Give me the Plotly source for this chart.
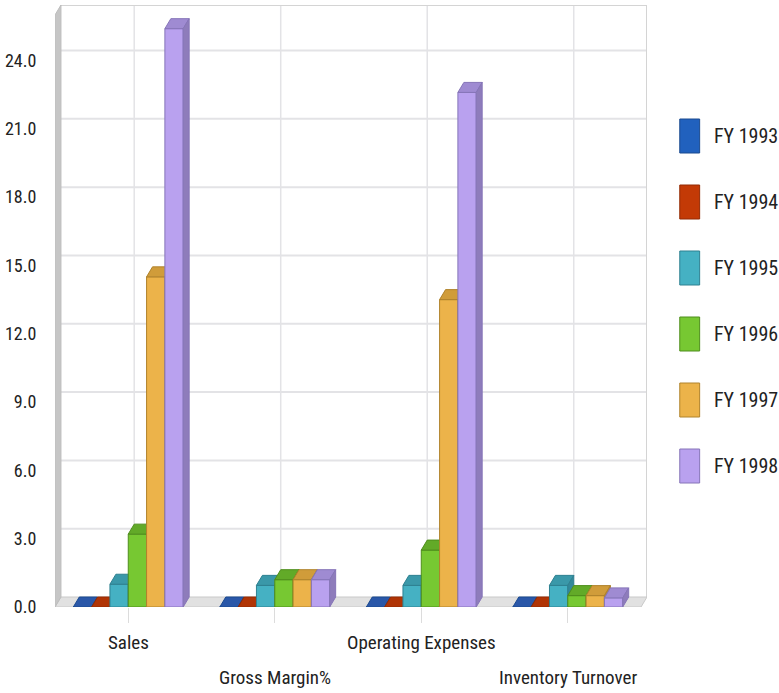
import plotly.graph_objects as go

# ---- data ----
categories = ["Sales", "Gross Margin%", "Operating Expenses", "Inventory Turnover"]
series_names = ["FY 1993", "FY 1994", "FY 1995", "FY 1996", "FY 1997", "FY 1998"]
fy1993 = [0.0, 0.0, 0.0, 0.0]
fy1994 = [0.0, 0.0, 0.0, 0.0]
fy1995 = [1.0, 0.95, 0.95, 0.95]
fy1996 = [3.2, 1.2, 2.5, 0.5]
fy1997 = [14.5, 1.2, 13.5, 0.5]
fy1998 = [25.4, 1.2, 22.6, 0.4]
y_ticks = [0, 3, 6, 9, 12, 15, 18, 21, 24]

series_values = [fy1993, fy1994, fy1995, fy1996, fy1997, fy1998]

# front / top / side / outline colours per series
front_colors = ["#2161be", "#c33a06", "#45b1c3", "#77c832", "#ecb34a", "#b9a1ef"]
top_colors = ["#2a57a8", "#b03405", "#3a98a9", "#62aa28", "#d09c3a", "#9f8bd2"]
side_colors = ["#1d4c94", "#9a2d04", "#33889a", "#57991f", "#ba8a31", "#8e7cbb"]
edge_colors = ["#1b4a8f", "#932b04", "#2f8191", "#4f8e1c", "#b0832c", "#8675b8"]

# ---- geometry ----
W, H = 779, 693
ML, MR, MT, MB = 51, 132, 5, 86
plot_w = W - ML - MR
plot_h = H - MT - MB

y_top = 26.0                    # back-wall height
group_width = 0.75
n_series = len(series_names)
bar_w = group_width / n_series
x_lo = -0.5
x_hi_front = len(categories) - 0.5
depth_px_x, depth_px_y = 6, 10
dx = depth_px_x * (x_hi_front - x_lo) / (plot_w - depth_px_x)
x_hi = x_hi_front + dx
dy = depth_px_y * y_top / (plot_h - depth_px_y)
y_hi = y_top + dy

fig = go.Figure()

# 3D-looking bars: front face, top face, side face, drawn series by series
for s, (name, vals) in enumerate(zip(series_names, series_values)):
    fx, fy, tx, ty, sx, sy = [], [], [], [], [], []
    for c, v in enumerate(vals):
        x0 = c - group_width / 2 + s * bar_w
        x1 = x0 + bar_w
        fx += [x0, x1, x1, x0, x0, None]
        fy += [0, 0, v, v, 0, None]
        tx += [x0, x1, x1 + dx, x0 + dx, x0, None]
        ty += [v, v, v + dy, v + dy, v, None]
        sx += [x1, x1 + dx, x1 + dx, x1, x1, None]
        sy += [0, dy, v + dy, v, 0, None]
    for xs, ys, col in ((fx, fy, front_colors[s]), (tx, ty, top_colors[s]), (sx, sy, side_colors[s])):
        fig.add_trace(go.Scatter(
            x=xs, y=ys, mode="lines", fill="toself", fillcolor=col,
            line=dict(color=edge_colors[s], width=1), name=name,
            showlegend=False, hoverinfo="skip"))

shapes = []
# back wall gridlines (horizontal)
for t in y_ticks[1:]:
    shapes.append(dict(type="line", xref="x", yref="y", x0=x_lo + dx, x1=x_hi,
                       y0=t + dy, y1=t + dy, line=dict(color="#e3e3e6", width=2), layer="below"))
# back wall gridlines (vertical, at categories)
for c in range(len(categories)):
    shapes.append(dict(type="line", xref="x", yref="y", x0=c + dx, x1=c + dx,
                       y0=dy, y1=y_hi, line=dict(color="#e3e3e6", width=1.5), layer="below"))
# back wall frame
shapes.append(dict(type="path", xref="x", yref="y",
                   path=f"M{x_lo + dx},{y_hi} L{x_hi},{y_hi} L{x_hi},{dy}",
                   line=dict(color="#d4d4d4", width=2), layer="below"))
# floor
shapes.append(dict(type="path", xref="x", yref="y",
                   path=f"M{x_lo},0 L{x_hi_front},0 L{x_hi},{dy} L{x_lo + dx},{dy} Z",
                   fillcolor="#e1e1e1", line=dict(color="#c9c9c9", width=1), layer="below"))
# left wall
shapes.append(dict(type="path", xref="x", yref="y",
                   path=f"M{x_lo},0 L{x_lo + dx},{dy} L{x_lo + dx},{y_hi} L{x_lo},{y_top} Z",
                   fillcolor="#c6c6c6", line=dict(color="#bdbdbd", width=1), layer="below"))

FONT = "Liberation Sans Narrow, Arial Narrow, Roboto Condensed, sans-serif"
TEXT = "#222222"

annotations = []
# category labels, staggered on two rows
for c, label in enumerate(categories):
    annotations.append(dict(x=c, xref="x", y=0, yref="paper", text=label, showarrow=False,
                            yanchor="middle", yshift=-35 if c % 2 == 0 else -70,
                            font=dict(family=FONT, size=19, color=TEXT)))


def px_x(p):
    return (p - ML) / plot_w


def px_y(p):
    return 1 - (p - MT) / plot_h


# legend: swatch + label per series
for s, name in enumerate(series_names):
    cy = 136 + 66 * s
    shapes.append(dict(type="rect", xref="paper", yref="paper",
                       x0=px_x(680), x1=px_x(700), y0=px_y(cy + 17), y1=px_y(cy - 17),
                       fillcolor=front_colors[s], line=dict(color=edge_colors[s], width=1)))
    annotations.append(dict(x=px_x(712), y=px_y(cy), xref="paper", yref="paper",
                            xanchor="left", yanchor="middle", text=name, showarrow=False,
                            font=dict(family=FONT, size=20, color=TEXT)))

fig.update_layout(
    width=W, height=H,
    margin=dict(l=ML, r=MR, t=MT, b=MB),
    paper_bgcolor="white", plot_bgcolor="white",
    showlegend=False,
    shapes=shapes, annotations=annotations,
    xaxis=dict(range=[x_lo, x_hi], tickvals=list(range(len(categories))), showticklabels=False,
               ticks="outside", ticklen=15, tickcolor="#dcdcdc", tickwidth=1,
               showgrid=False, zeroline=False, showline=False, fixedrange=True),
    yaxis=dict(range=[0, y_hi], tickvals=y_ticks, ticktext=[f"{t:.1f}" for t in y_ticks],
               ticks="outside", ticklen=14, tickcolor="rgba(0,0,0,0)",
               tickfont=dict(family=FONT, size=18, color=TEXT),
               showgrid=False, zeroline=False, showline=False, fixedrange=True),
)

fig.write_html("out.html")
